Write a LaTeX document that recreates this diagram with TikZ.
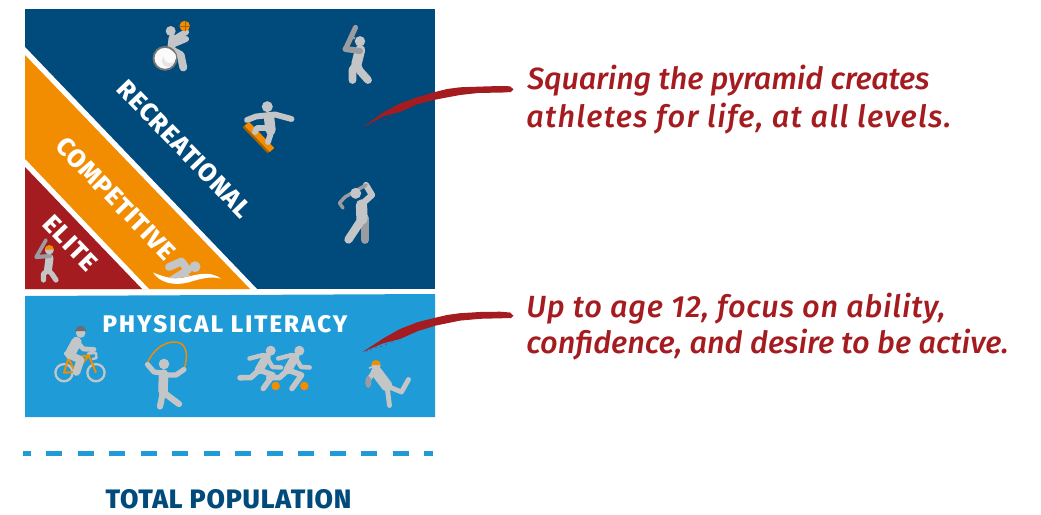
\documentclass[tikz,border=0pt]{standalone}
\usepackage{fontspec}
\setmainfont{Fira Sans}
\newfontfamily\dinfont[LetterSpace=3.5,BoldFont={Fira Sans ExtraBold}]{Fira Sans}
\newfontfamily\dineli[LetterSpace=5,BoldFont={Fira Sans ExtraBold}]{Fira Sans}
\newfontfamily\dinwide[LetterSpace=8.7,BoldFont={Fira Sans ExtraBold}]{Fira Sans}
\newfontfamily\dintotal[LetterSpace=3,BoldFont={Fira Sans ExtraBold}]{Fira Sans}
\newcommand{\handline}[2]{{\fontspec[LetterSpace=#1]{Fira Sans Medium Italic}\fontsize{23}{23}\selectfont #2}}
\definecolor{navy}{HTML}{004A7C}
\definecolor{sky}{HTML}{1F9BD7}
\definecolor{amber}{HTML}{F28C00}
\definecolor{crimson}{HTML}{A51C20}
\definecolor{lg}{HTML}{C4C5C7}
\definecolor{dg}{HTML}{9A9CA0}
\tikzset{
  lim/.style={draw=lg,line width=1.3*#1,line cap=round,line join=round},
  lim/.default=4.5pt,
  dlim/.style={draw=dg,line width=1.3*#1,line cap=round,line join=round},
  dlim/.default=3pt,
  headdot/.style={fill=lg,draw=none},
  banner/.style={text=white,font=\bfseries,inner sep=0pt,anchor=center},
  hand/.style={text=crimson,anchor=west,inner sep=0pt},
  brush/.style={fill=crimson,draw=none},
  speck/.style={fill=crimson,draw=none,radius=0.7}
}
\begin{document}
\begin{tikzpicture}[x=0.75pt,y=-0.75pt]
\useasboundingbox (0,0) rectangle (1041,514);
% bands
\fill[navy] (25,9) rectangle (435,289);
\fill[white] (25,47) -- (257,289) -- (25,289) -- cycle;
\fill[amber] (25,55) -- (250,289) -- (25,289) -- cycle;
\fill[white] (25,159) -- (149,289) -- (25,289) -- cycle;
\fill[crimson] (25,167) -- (142,289) -- (25,289) -- cycle;
\fill[sky] (25,296) -- (435,294) -- (435,417) -- (25,417) -- cycle;
% labels
\node[banner,rotate=-46.1] (rec) at (184.5,149) {\dinfont\bfseries\fontsize{19}{19}\selectfont RECREATIONAL};
\node[banner,rotate=-46.1] (comp) at (116,198.5) {\dinfont\bfseries\fontsize{19}{19}\selectfont COMPETITIVE};
\node[banner,rotate=-46.1] (eli) at (70.5,243) {\dineli\bfseries\fontsize{19}{19}\selectfont ELITE};
\node[banner] (phys) at (225,324) {\dinwide\bfseries\fontsize{18}{18}\selectfont PHYSICAL LITERACY};
\node[banner,text=navy] (total) at (228.5,499.5) {\dintotal\bfseries\fontsize{20}{20}\selectfont TOTAL POPULATION};
% dashed baseline
\coordinate (dashL) at (23,453.5);
\coordinate (dashR) at (433,453.5);
\draw[sky,line width=3.75pt,dash pattern=on 12pt off 11.6pt,dash phase=6pt] (dashL) -- (dashR);
% wheelchair athlete
\draw[lim] (172.5,38) -- (171,50) -- (180.7,55) -- (183.3,67.5);
\draw[lim=3.5pt] (172.5,40) -- (186,32);
\draw[lim=3.5pt] (174,44) -- (186,39);
\fill[headdot] (170.7,31) circle[radius=5];
\draw[draw=dg!75!black,line width=1.4pt,fill=white!92!lg] (165,58.3) circle[radius=11.5];
\fill[lg!45!white] (168,61) circle[radius=6];
\fill[white!94!lg] (170,57) circle[radius=6];
\fill[amber] (184.7,26) circle[radius=5.2];
\draw[amber!70!black,line width=.3pt] (180,26) -- (189.5,26) (184.7,21) -- (184.7,31);
% batter
\draw[lim=6pt] (360,50) -- (356.5,64);
\draw[lim=4.5pt] (356.5,64) -- (352.5,70) -- (352.5,80);
\draw[lim=4.5pt] (356.5,64) -- (360,71) -- (368,80);
\fill[headdot] (360,41.3) circle[radius=5.2];
\draw[dlim=3pt] (355.5,27.5) -- (346,48);
\draw[dlim=3.5pt] (345.5,49) -- (360,51);
\fill[dg] (352,35) ++(2,3) circle[radius=1.5];
% snowboarder
\draw[amber!70!black,line width=5pt,line cap=butt] (245,125) -- (270,151);
\draw[amber,line width=4.5pt,line cap=butt] (247,124) -- (272,150);
\draw[lim=3.4pt] (247,120) -- (256,116.5) -- (275,114.5) -- (291.5,119);
\draw[lim=6pt] (269,117) -- (270.5,130);
\draw[lim=3.4pt] (270,128) -- (257,128) -- (255,132);
\draw[lim=3.4pt] (271.5,131) -- (268,142);
\fill[headdot] (267.3,106.7) circle[radius=5.5];
% golfer
\draw[dlim=4.5pt] (365,218) -- (365,240);
\draw[lim=6.5pt] (361.5,205) -- (362,219);
\draw[lim=4.8pt] (362,219) -- (348.5,239.5);
\draw[lim=3.6pt] (362,204) -- (372,195) -- (366,185);
\draw[dlim=2pt] (366,185) -- (345,197) -- (339.5,203) -- (343,208);
\fill[headdot] (355.7,193.3) circle[radius=5.5];
% elite batter
\draw[lim=4.6pt] (49.5,258) -- (48,270);
\draw[lim=3pt] (48,270) -- (43.5,274) -- (43.5,280);
\draw[lim=3pt] (48,270) -- (52,274) -- (56,280);
\draw[dlim=2.1pt] (46,240) -- (36.5,256.5);
\draw[dlim=2.4pt] (36.5,257) -- (50,256);
\fill[headdot] (49.3,250) circle[radius=4.5];
\fill[amber] (44.8,249.5) arc[start angle=180,end angle=360,radius=4.5] -- cycle;
% swimmer
\fill[white] (153,272.5) .. controls (162,276) and (172,280) .. (184,277.5)
  .. controls (196,275) and (209,270) .. (221,278.5)
  .. controls (209,276) and (200,279) .. (188,282.5)
  .. controls (174,286) and (160,283) .. (153,272.5) -- cycle;
\fill[lg] (168,278) -- (184,268) -- (190,276) -- (176,278.5) -- cycle;
\draw[lim=4.5pt] (169,267) -- (181.5,261.5) -- (188,270);
\fill[headdot] (195,266.7) circle[radius=5.5];
% cyclist
\draw[lg,line width=1.7pt] (64,372.7) circle[radius=8.6] (96,372.7) circle[radius=8.6];
\draw[amber,line width=1.5pt,line join=round] (64,372.7) -- (68.5,358) -- (75,372) -- cycle (68.5,358) -- (89,355.5) -- (75,372) (88,353.5) -- (96,372.7);
\draw[lim=6pt] (76.5,342) -- (70,354);
\draw[lim=2.4pt] (66,353.5) -- (73,355);
\draw[lim=2.8pt] (76.7,342) -- (83.5,349) -- (94,349.5);
\draw[lim=4.4pt] (70,355) -- (80.5,360) -- (76.5,372);
\draw[lim=1.4pt] (88,353.5) -- (96,353) -- (96.5,358) -- (92.7,359);
\fill[headdot] (80.7,333) circle[radius=4.8];
\fill[dg!70!black] (75.3,331) arc[start angle=180,end angle=360,radius=5.4] -- cycle;
% rope jumper
\draw[amber,line width=1.1pt] (147.5,363) .. controls (152,351) and (164,341) .. (176,342)
  .. controls (188,343) and (188,358) .. (184,369);
\draw[lim=5.5pt] (163.5,374) -- (163,391);
\draw[lim=3pt] (163,373) -- (154,372) -- (147.5,364.5);
\draw[lim=3pt] (163,375) -- (176,375) -- (184,369.5);
\draw[lim=3.6pt] (163,392) -- (160,406.5);
\draw[lim=3.6pt] (163,392) -- (179,404);
\fill[headdot] (164,364) circle[radius=5.3];
% runners
\foreach \dx in {0,28.67}{
  \begin{scope}[xshift=\dx*0.75pt]
  \draw[lim=5pt] (266.5,357) -- (259,370);
  \draw[lim=2.6pt] (249.5,358.5) -- (263,355) -- (266.5,357) -- (272.5,367) -- (281,367.5);
  \draw[lim=3.2pt] (258,371) -- (251,377.5) -- (240,377.8);
  \draw[lim=3.2pt] (259,370) -- (273,375) -- (263.3,388.5);
  \fill[headdot] (270.7,350.7) circle[radius=5];
  \fill[amber] (275.7,386) circle[radius=4.3];
  \end{scope}
}
% thrower
\draw[lim=6.5pt] (376.5,372) -- (387,386);
\draw[lim=2.8pt] (375,370) -- (369,379);
\draw[lim=2.8pt] (387,386) -- (389.5,405.5);
\draw[lim=2.8pt] (387,386) -- (401.5,392) -- (408.5,379.5);
\fill[dg] (368.3,382) ellipse[x radius=3,y radius=6];
\fill[headdot] (376,366) circle[radius=4.5];
\fill[amber] (371,365) arc[start angle=180,end angle=360,radius=5] -- cycle;
\draw[lg,line width=1.2pt] (369,368) -- (376,366);
% notes
\node[hand] (note1a) at (527,81) {\handline{-0.5}{Squaring the pyramid creates}};
\node[hand] (note1b) at (526,119) {\handline{4.2}{athletes for life, at all levels.}};
\node[hand] (note2a) at (526,309) {\handline{2.5}{Up to age 12, focus on ability,}};
\node[hand] (note2b) at (526,345) {\handline{0}{confidence, and desire to be active.}};
% brush leaders
\coordinate (b1s) at (513.5,89.3);
\coordinate (b1e) at (363,127);
\coordinate (b2s) at (513.5,315.7);
\coordinate (b2e) at (362.5,352);
\fill[brush] (b1s) -- (510,86.3) -- (500,86) -- (480,86.6) -- (460,87.3) -- (447,89) -- (435,92) -- (418,97) -- (400,103.5) -- (384,112) -- (b1e)
   -- (384,116) -- (400,112) -- (418,104) -- (436,99.5) -- (460,95) -- (480,92.8) -- (500,92.7) -- (511,92) -- cycle;
\fill[brush] (b2s) -- (510,312.5) -- (500,311.7) -- (480,312) -- (460,313.2) -- (447,315) -- (435,317.8) -- (418,322) -- (400,329) -- (384,338) -- (b2e)
   -- (384,343) -- (400,339) -- (418,331) -- (436,325.5) -- (460,320.6) -- (480,318.8) -- (500,318.3) -- (511,318) -- cycle;
\foreach \p in {(372,125),(376,123),(381,120.5),(368,126),(385,119.5),(391,116.8)}{\fill[speck] \p circle;}
\foreach \p in {(371,350),(376,347.5),(381,346.5),(367,351),(386,344.2),(392,342)}{\fill[speck] \p circle;}
\end{tikzpicture}
\end{document}
